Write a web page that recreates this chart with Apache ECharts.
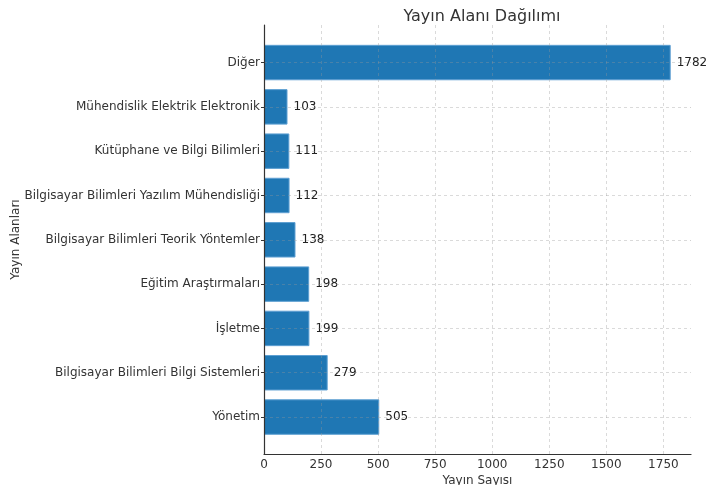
<!DOCTYPE html>
<html>
<head>
<meta charset="utf-8">
<script src="https://cdn.jsdelivr.net/npm/echarts@6/dist/echarts.min.js"></script>
<style>html,body{margin:0;padding:0;background:#fff;}#c{width:708px;height:485px;}</style>
</head>
<body>
<div id="c"></div>
<script>
const categories = ["Diğer","Mühendislik Elektrik Elektronik","Kütüphane ve Bilgi Bilimleri","Bilgisayar Bilimleri Yazılım Mühendisliği","Bilgisayar Bilimleri Teorik Yöntemler","Eğitim Araştırmaları","İşletme","Bilgisayar Bilimleri Bilgi Sistemleri","Yönetim"];
const values = [1782,103,111,112,138,198,199,279,505];
const xTicks = [0,250,500,750,1000,1250,1500,1750];
const title = "Yayın Alanı Dağılımı";
const xName = "Yayın Sayısı";
const yName = "Yayın Alanları";

const FONT = "DejaVu Sans";
const XMAX = 1871;
const TICKMAX = xTicks[xTicks.length - 1];
const L = 264, R = 17;
const plotW = 708 - L - R;
const RB = 708 - L - plotW * TICKMAX / XMAX;
const gridColor = 'rgba(150,150,150,0.45)';
const gb = {containLabel:false, outerBoundsMode:'none'};
const chart = echarts.init(document.getElementById('c'));
chart.setOption({
  animation:false,
  textStyle:{fontFamily:FONT},
  title:{text:title,left:477,top:4,textAlign:'center',textStyle:{fontFamily:FONT,fontSize:16,fontWeight:'normal',color:'#333'}},
  grid:[
    Object.assign({left:L,right:R,top:25,bottom:31},gb),
    Object.assign({left:L,right:RB,top:25,bottom:31},gb),
    Object.assign({left:L,right:R,top:62.5,bottom:68},gb),
    Object.assign({left:L,right:R,top:40.4,bottom:45.8},gb)
  ],
  xAxis:[
    {gridIndex:0,type:'value',min:0,max:XMAX,z:5,
     name:xName,nameLocation:'middle',nameGap:21,nameTextStyle:{fontFamily:FONT,fontSize:12,color:'#333'},
     axisLine:{show:true,lineStyle:{color:'#333',width:1.2}},
     axisTick:{show:false},axisLabel:{show:false},splitLine:{show:false}},
    {gridIndex:1,type:'value',min:0,max:TICKMAX,interval:250,z:4,
     axisLine:{show:false},axisTick:{show:false},
     axisLabel:{fontFamily:FONT,fontSize:12,color:'#333',margin:5,formatter:v=>String(v)},
     splitLine:{show:true,lineStyle:{color:gridColor,type:[3,3],width:0.8}}},
    {gridIndex:2,type:'value',min:0,max:XMAX,show:false},
    {gridIndex:3,type:'value',min:0,max:XMAX,show:false}
  ],
  yAxis:[
    {gridIndex:0,type:'value',min:0,max:1,z:5,
     name:yName,nameLocation:'middle',nameGap:242,nameRotate:90,nameTextStyle:{fontFamily:FONT,fontSize:12,color:'#333'},
     axisLine:{show:true,lineStyle:{color:'#333',width:1.2}},
     axisTick:{show:false},axisLabel:{show:false},splitLine:{show:false}},
    {gridIndex:1,type:'value',min:0,max:1,show:false},
    {gridIndex:2,type:'value',min:0,max:8,interval:1,z:4,
     axisLine:{show:false},axisTick:{show:false},axisLabel:{show:false},
     splitLine:{show:true,lineStyle:{color:gridColor,type:[3,3],width:0.8}}},
    {gridIndex:3,type:'category',data:categories,inverse:true,z:5,
     axisLine:{show:false},
     axisTick:{show:true,alignWithLabel:true,length:3,lineStyle:{color:'#333'}},
     axisLabel:{fontFamily:FONT,fontSize:12,color:'#333',margin:4},
     splitLine:{show:false}}
  ],
  series:[{
    type:'bar',xAxisIndex:3,yAxisIndex:3,data:values,barWidth:'80%',
    itemStyle:{color:'#1f77b4',borderColor:'#5d9fd2',borderWidth:1},
    label:{show:true,position:'right',distance:6,fontFamily:FONT,fontSize:12,color:'#222'}
  }]
});
</script>
</body>
</html>
